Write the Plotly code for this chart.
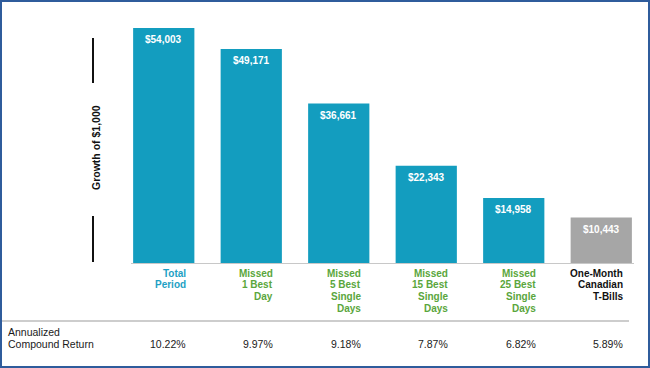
import plotly.graph_objects as go

categories = ["Total<br>Period", "Missed<br>1 Best<br>Day", "Missed<br>5 Best<br>Single<br>Days",
              "Missed<br>15 Best<br>Single<br>Days", "Missed<br>25 Best<br>Single<br>Days",
              "One-Month<br>Canadian<br>T-Bills"]
growth_values = [54003, 49171, 36661, 22343, 14958, 10443]
value_labels = ["$54,003", "$49,171", "$36,661", "$22,343", "$14,958", "$10,443"]
annualized_returns = ["10.22%", "9.97%", "9.18%", "7.87%", "6.82%", "5.89%"]
bar_colors = ["#139DBF", "#139DBF", "#139DBF", "#139DBF", "#139DBF", "#A6A6A6"]
label_colors = ["#1E9FC4", "#5AA63C", "#5AA63C", "#5AA63C", "#5AA63C", "#111111"]

FONT = "Arial, Liberation Sans, sans-serif"
W, H = 650, 368
L, R, T, B = 120, 5, 2, 105
PW, PH = W - L - R, H - T - B
YMAX = 60000


def px_x(px):
    return (px - L) / PW


def px_y(py):
    return (H - B - py) / PH


xs = list(range(len(categories)))

fig = go.Figure()
fig.add_trace(go.Bar(x=xs, y=growth_values, marker=dict(color=bar_colors, line=dict(width=0)),
                     width=0.7, hoverinfo="skip"))

ann = []
shapes = []
for i, (v, vl, cat, pct, lc) in enumerate(zip(growth_values, value_labels, categories,
                                               annualized_returns, label_colors)):
    ann.append(dict(x=i, y=v, xref="x", yref="y", text="<b>%s</b>" % vl, showarrow=False,
                    yanchor="top", yshift=-4, font=dict(family=FONT, size=10, color="white")))
    for j, line in enumerate(cat.split("<br>")):
        ann.append(dict(x=i, y=px_y(273 + 11.7 * j), xref="x", yref="paper", text="<b>%s</b>" % line,
                        showarrow=False, xanchor="right", yanchor="middle", xshift=24,
                        font=dict(family=FONT, size=10, color=lc)))
    ann.append(dict(x=i, y=px_y(344), xref="x", yref="paper", text=pct, showarrow=False,
                    xanchor="right", yanchor="middle", xshift=24,
                    font=dict(family=FONT, size=10.5, color="#1a1a1a")))

ann.append(dict(x=px_x(6), y=px_y(332), xref="paper", yref="paper", text="Annualized",
                showarrow=False, xanchor="left", yanchor="middle",
                font=dict(family=FONT, size=10.5, color="#1a1a1a")))
ann.append(dict(x=px_x(6), y=px_y(344), xref="paper", yref="paper", text="Compound Return",
                showarrow=False, xanchor="left", yanchor="middle",
                font=dict(family=FONT, size=10.5, color="#1a1a1a")))
ann.append(dict(x=px_x(96), y=px_y(148), xref="paper", yref="paper", text="<b>Growth of $1,000</b>",
                showarrow=False, textangle=-90, xanchor="center", yanchor="middle",
                font=dict(family=FONT, size=10.5, color="#111111")))

line_black = dict(color="#111111", width=2)
shapes.append(dict(type="line", xref="paper", yref="paper", x0=px_x(93), x1=px_x(93),
                   y0=px_y(38), y1=px_y(83), line=line_black))
shapes.append(dict(type="line", xref="paper", yref="paper", x0=px_x(93), x1=px_x(93),
                   y0=px_y(216), y1=px_y(262), line=line_black))
# baseline
shapes.append(dict(type="line", xref="paper", yref="paper", x0=px_x(131), x1=px_x(634),
                   y0=px_y(263.5), y1=px_y(263.5), line=dict(color="#C8C8C8", width=1)))
# separator
shapes.append(dict(type="line", xref="paper", yref="paper", x0=px_x(1), x1=px_x(629),
                   y0=px_y(321), y1=px_y(321), line=dict(color="#BDBDBD", width=1.5)))
# frame
shapes.append(dict(type="rect", xref="paper", yref="paper", x0=px_x(1), x1=px_x(649),
                   y0=px_y(1), y1=px_y(367), line=dict(color="#2F5C9C", width=2)))

fig.update_layout(
    width=W, height=H, margin=dict(l=L, r=R, t=T, b=B),
    paper_bgcolor="white", plot_bgcolor="white", showlegend=False,
    xaxis=dict(range=[-0.5, 5.5], visible=False, fixedrange=True),
    yaxis=dict(range=[0, YMAX], visible=False, fixedrange=True),
    annotations=ann, shapes=shapes,
)
fig.write_html("out.html", config={"displayModeBar": False},
               post_script="document.body.style.margin='0';document.body.style.overflow='hidden';")
